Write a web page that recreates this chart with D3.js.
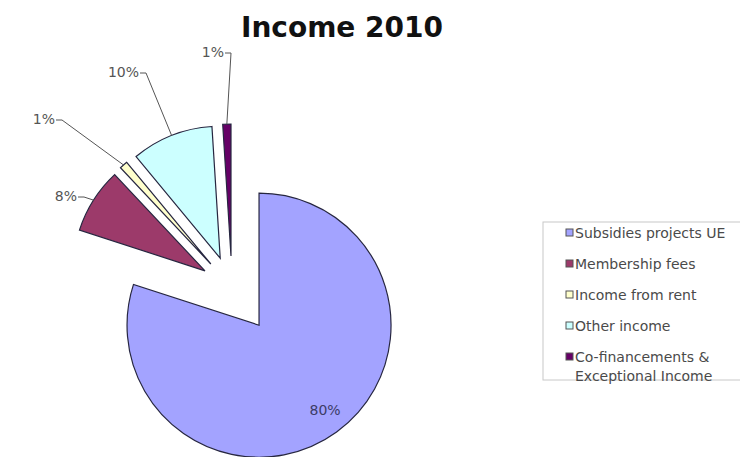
<!DOCTYPE html>
<html>
<head>
    <title>Income 2010</title>
    <script src="https://cdnjs.cloudflare.com/ajax/libs/d3/7.8.5/d3.min.js"></script>
    <style>
    body { margin:0; background:#fff; }
    svg { display:block; font-family:"DejaVu Sans", Verdana, sans-serif; }
    .slice { stroke:#262640; stroke-width:1.2px; }
    .leader { fill:none; stroke:#555; stroke-width:1px; }
    .pct { font-size:14px; fill:#555; }
    .legend-text { font-size:14px; fill:#4a4a4a; }
    </style>
</head>
<body>
<div class="chart"></div>
<script>
// data
var categories = ['Subsidies projects UE', 'Membership fees', 'Income from rent', 'Other income', 'Co-financements & Exceptional Income'];
var values = [80, 8, 1, 10, 1];
var colors = ['#a3a3ff', '#9c3a6a', '#ffffcc', '#ccffff', '#660066'];

var width = 740, height = 457;
var cx = 232, cy = 288, radius = 132;

// elbow of each leader line (the big slice is labelled inside)
var labelAt = [null, [84, 197], [62, 120], [146, 73], [231, 53]];

var svg = d3.select('.chart').append('svg')
    .attr('width', width)
    .attr('height', height);

svg.append('text')
    .attr('x', 342)
    .attr('y', 37)
    .attr('text-anchor', 'middle')
    .style('font-weight', 'bold')
    .style('font-size', '28px')
    .attr('fill', '#111')
    .text('Income 2010');

var total = d3.sum(values);
var pie = d3.pie().sort(null).value(function(d) { return d.value; });
var arcs = pie(values.map(function(v, i) { return { name: categories[i], value: v, i: i }; }));

var arc = d3.arc().innerRadius(0).outerRadius(radius);
var rimArc = d3.arc().innerRadius(radius).outerRadius(radius);
var insideArc = d3.arc().innerRadius(radius * 0.8).outerRadius(radius * 0.8);
var dirArc = d3.arc().innerRadius(1).outerRadius(1);

// every slice is pulled out, the big one a bit further
function offset(d) {
    var dist = d.index === 0 ? 46 : 32;
    var c = dirArc.centroid(d);
    var len = Math.sqrt(c[0] * c[0] + c[1] * c[1]);
    return [c[0] / len * dist, c[1] / len * dist];
}

var pieG = svg.append('g').attr('transform', 'translate(' + cx + ',' + cy + ')');

var slices = pieG.selectAll('g.s').data(arcs).enter().append('g')
    .attr('class', 's')
    .attr('transform', function(d) { var o = offset(d); return 'translate(' + o[0] + ',' + o[1] + ')'; });

slices.append('path')
    .attr('class', 'slice')
    .attr('d', arc)
    .attr('fill', function(d) { return colors[d.index]; });

var fmt = function(d) { return Math.round(d.data.value / total * 100) + '%'; };

// leaders + outside labels
arcs.forEach(function(d) {
    var o = offset(d);
    if (!labelAt[d.index]) {
        var p = insideArc.centroid(d);
        pieG.append('text')
            .attr('class', 'pct')
            .attr('x', p[0] + o[0] + 4)
            .attr('y', p[1] + o[1] - 1)
            .attr('text-anchor', 'middle')
            .attr('dominant-baseline', 'central')
            .style('fill', '#3c3c66')
            .text(fmt(d));
        return;
    }
    var r = rimArc.centroid(d);
    var start = [cx + r[0] + o[0], cy + r[1] + o[1]];
    var elbow = labelAt[d.index];
    var tail = [elbow[0] - 6, elbow[1]];
    svg.append('path')
        .attr('class', 'leader')
        .attr('d', d3.line()([start, elbow, tail]));
    svg.append('text')
        .attr('class', 'pct')
        .attr('x', tail[0] - 1)
        .attr('y', tail[1] + 4)
        .attr('text-anchor', 'end')
        .text(fmt(d));
});

// legend
var legend = svg.append('g').attr('transform', 'translate(543,222)');
legend.append('rect')
    .attr('width', 210)
    .attr('height', 158)
    .attr('fill', '#fff')
    .attr('stroke', '#c8c8c8');

var item = legend.selectAll('g.item').data(categories).enter().append('g')
    .attr('class', 'item')
    .attr('transform', function(d, i) { return 'translate(23,' + (11 + i * 31) + ')'; });

item.append('rect')
    .attr('x', 0)
    .attr('y', -4)
    .attr('width', 7)
    .attr('height', 7)
    .attr('fill', function(d, i) { return colors[i]; })
    .attr('stroke', '#555');

item.append('text')
    .attr('class', 'legend-text')
    .attr('x', 9)
    .attr('y', 5)
    .each(function(d) {
        var t = d3.select(this);
        var parts = d.indexOf('& ') > 0 ? [d.slice(0, d.indexOf('& ') + 1), d.slice(d.indexOf('& ') + 2)] : [d];
        parts.forEach(function(p, k) {
            t.append('tspan').attr('x', 9).attr('dy', k ? 19 : 0).text(p);
        });
    });
</script>
</body>
</html>
